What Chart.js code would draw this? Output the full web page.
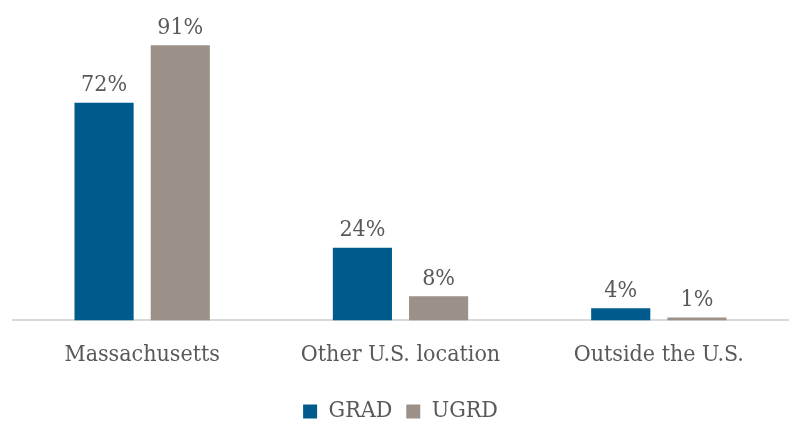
<!DOCTYPE html>
<html>
<head>
<meta charset="utf-8">
<script src="https://cdn.jsdelivr.net/npm/chart.js@4"></script>
<style>
  body { margin: 0; background: #fff; }
  #wrap { width: 793px; height: 425px; }
</style>
</head>
<body>
<div id="wrap"><canvas id="myChart" width="793" height="425"></canvas></div>
<script>
var categories = ['Massachusetts', 'Other U.S. location', 'Outside the U.S.']
var gradValues = [72, 24, 4]
var ugrdValues = [91, 8, 1]

var fontFamily = "'DejaVu Serif Condensed', 'DejaVu Serif', serif"
var textColor = '#595959'

// draws the % labels over the bars
const valueLabels = {
    id: 'valueLabels',
    afterDatasetsDraw(chart) {
        const ctx = chart.ctx
        ctx.save()
        ctx.font = '23px ' + fontFamily
        ctx.fillStyle = textColor
        ctx.textAlign = 'center'
        ctx.textBaseline = 'bottom'
        chart.data.datasets.forEach((ds, i) => {
            chart.getDatasetMeta(i).data.forEach((bar, j) => {
                ctx.fillText(ds.data[j] + '%', bar.x, bar.y - 6)
            })
        })
        ctx.restore()
    }
}

const ctx = document.getElementById('myChart')

var myChart = new Chart(ctx, {
    type: 'bar',
    data: {
        labels: categories,
        datasets: [{
            label: 'GRAD',
            data: gradValues,
            backgroundColor: '#005A8B'
        }, {
            label: 'UGRD',
            data: ugrdValues,
            backgroundColor: '#9B9189'
        }]
    },
    options: {
        responsive: false,
        animation: false,
        categoryPercentage: 0.59,
        barPercentage: 0.776,
        layout: {
            padding: { left: 13, right: 5, top: 18, bottom: -8 }
        },
        plugins: {
            legend: {
                position: 'bottom',
                labels: {
                    font: { family: fontFamily, size: 23 },
                    color: textColor,
                    boxWidth: 14,
                    boxHeight: 14,
                    padding: 14
                }
            },
            tooltip: { enabled: false }
        },
        scales: {
            x: {
                grid: { display: false, drawTicks: false },
                border: { color: '#d9d9d9', width: 2 },
                ticks: {
                    font: { family: fontFamily, size: 23 },
                    color: textColor,
                    padding: 21
                },
                afterFit: function(scale) {
                    scale.height -= 4
                }
            },
            y: {
                display: false,
                min: 0,
                max: 100
            }
        }
    },
    plugins: [valueLabels]
});
</script>
</body>
</html>
